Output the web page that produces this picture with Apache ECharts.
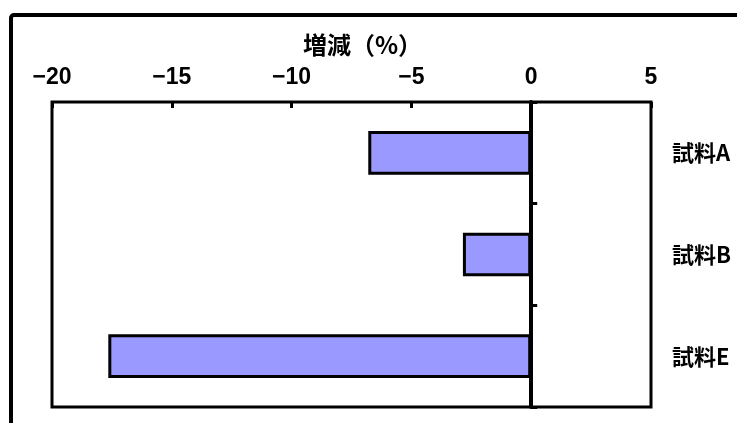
<!DOCTYPE html>
<html>
<head>
<meta charset="utf-8">
<script src="https://cdn.jsdelivr.net/npm/echarts@6/dist/echarts.min.js"></script>
<style>
  html, body { margin: 0; padding: 0; background: #fff; }
  #chart { width: 737px; height: 423px; }
</style>
</head>
<body>
<div id="chart"></div>
<script>
// Samples and their change (%)
const categories = ['試料A', '試料B', '試料E'];
const changes = [-6.8, -2.85, -17.65];
const xTicks = { min: -20, max: 5, step: 5 };
const axisTitle = '増減（%）';

const numFont = '"Liberation Sans Narrow", "Liberation Sans", sans-serif';
const jpFont = '"Noto Sans CJK JP", sans-serif';

const chart = echarts.init(document.getElementById('chart'), null, { renderer: 'canvas' });

chart.setOption({
  backgroundColor: '#ffffff',
  animation: false,
  graphic: [{
    type: 'rect',
    shape: { x: 11, y: 15, width: 900, height: 600, r: 3 },
    style: { fill: 'none', stroke: '#000', lineWidth: 4 },
    z: 0
  }],
  grid: {
    left: 52, top: 102, right: 86, bottom: 16,
    show: true, borderColor: '#000', borderWidth: 3,
    backgroundColor: 'transparent'
  },
  xAxis: {
    type: 'value',
    position: 'top',
    min: xTicks.min, max: xTicks.max, interval: xTicks.step,
    splitLine: { show: false },
    axisLine: { show: false },
    axisTick: { show: true, inside: true, length: 6, lineStyle: { color: '#000', width: 3 } },
    axisLabel: {
      margin: 13,
      color: '#000', fontSize: 23, fontWeight: 'bold', fontFamily: numFont,
      formatter: v => String(v).replace('-', '−')
    },
    name: axisTitle,
    nameLocation: 'middle',
    nameGap: 45,
    nameTextStyle: { color: '#000', fontSize: 24, fontWeight: 'bold', fontFamily: jpFont, padding: [0, 0, 0, 22] }
  },
  yAxis: [{
    type: 'category',
    data: categories,
    inverse: true,
    position: 'left',
    axisLine: { show: true, onZero: true, lineStyle: { color: '#000', width: 4 } },
    axisTick: { show: true, inside: true, length: 6, lineStyle: { color: '#000', width: 3 } },
    axisLabel: { show: false },
    splitLine: { show: false }
  }, {
    type: 'category',
    data: categories,
    inverse: true,
    position: 'right',
    axisLine: { show: false },
    axisTick: { show: false },
    axisLabel: { margin: 21, color: '#000', fontSize: 22, fontWeight: 'bold', fontFamily: jpFont },
    splitLine: { show: false }
  }],
  series: [{
    type: 'bar',
    yAxisIndex: 0,
    data: changes,
    barWidth: '43%',
    itemStyle: { color: '#9999ff', borderColor: '#000', borderWidth: 3 },
    z: 1
  }]
});
</script>
</body>
</html>
